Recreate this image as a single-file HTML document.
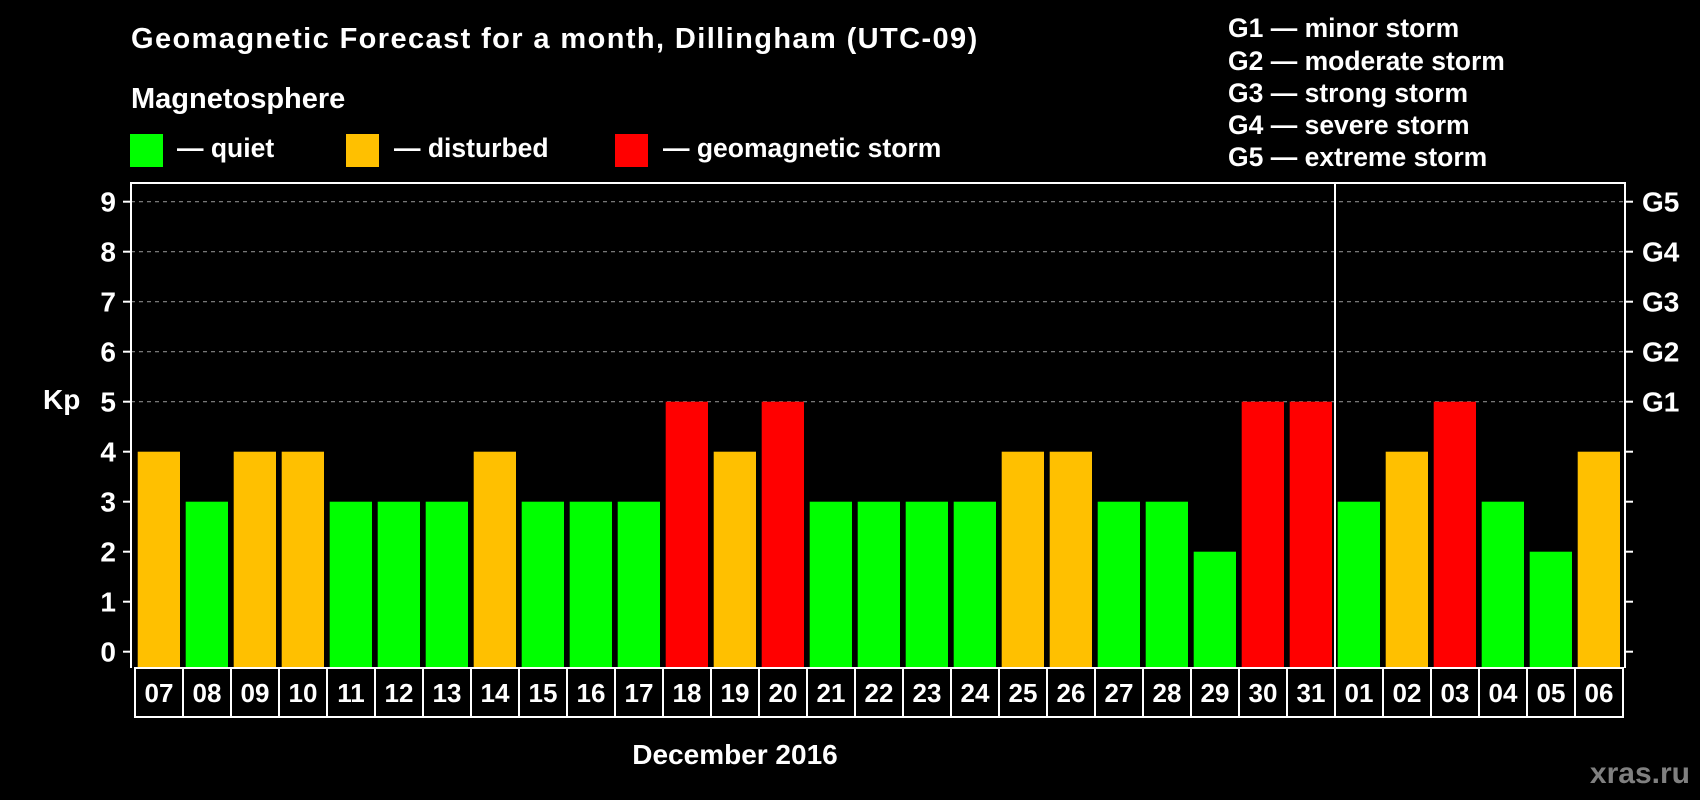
<!DOCTYPE html>
<html><head><meta charset="utf-8"><style>
html,body{margin:0;padding:0;background:#000;}
svg{display:block;font-family:"Liberation Sans",Arial,sans-serif;font-weight:bold;}
</style></head><body>
<svg id="chart" width="1700" height="800" viewBox="0 0 1700 800" xmlns="http://www.w3.org/2000/svg">
<rect width="1700" height="800" fill="#000"/>
<text x="131" y="48" fill="#fff" font-size="29" letter-spacing="1.4">Geomagnetic Forecast for a month, Dillingham (UTC-09)</text>
<text x="131" y="108" fill="#fff" font-size="29">Magnetosphere</text>
<g><rect x="130" y="134" width="33" height="33" fill="#00ff00"/><text x="177" y="157" fill="#fff" font-size="26.5">— quiet</text></g>
<g><rect x="346" y="134" width="33" height="33" fill="#ffc000"/><text x="394" y="157" fill="#fff" font-size="26.5">— disturbed</text></g>
<g><rect x="615" y="134" width="33" height="33" fill="#ff0000"/><text x="663" y="157" fill="#fff" font-size="26.5">— geomagnetic storm</text></g>
<g fill="#fff" font-size="26.5">
<text x="1228" y="37">G1 — minor storm</text>
<text x="1228" y="70">G2 — moderate storm</text>
<text x="1228" y="102">G3 — strong storm</text>
<text x="1228" y="134">G4 — severe storm</text>
<text x="1228" y="166">G5 — extreme storm</text>
</g>
<text x="43" y="409" fill="#fff" font-size="28">Kp</text>
<text x="735" y="764" fill="#fff" font-size="28" text-anchor="middle">December 2016</text>
<text x="1690" y="783" fill="#808080" font-size="30" text-anchor="end">xras.ru</text>
<g id="grid"></g>
<g id="bars"></g>
<g id="labels"></g>
<g id="axes"></g>
</svg>
<script>
const days = ["07","08","09","10","11","12","13","14","15","16","17","18","19","20","21","22","23","24","25","26","27","28","29","30","31","01","02","03","04","05","06"];
const kp = [4,3,4,4,3,3,3,4,3,3,3,5,4,5,3,3,3,3,4,4,3,3,2,5,5,3,4,5,3,2,4];
const yTicks = [0,1,2,3,4,5,6,7,8,9];
const gLabels = ["G1","G2","G3","G4","G5"];
const gLevels = [5,6,7,8,9];
const monthBreakIndex = 25;

const NS = "http://www.w3.org/2000/svg";
const plotLeft = 131, plotRight = 1625, plotTop = 183, plotBottom = 668;
const pitch = 48, barW = 42.3, firstX = 137.7;
function yPos(v){ return 651.7 - 50*v; }
function xPos(i){ return firstX + i*pitch; }
function mk(tag, attrs, parent){ const e=document.createElementNS(NS,tag); for(const k in attrs) e.setAttribute(k,attrs[k]); parent.appendChild(e); return e; }
function barColor(v){ return v>=5 ? "#ff0000" : (v>=4 ? "#ffc000" : "#00ff00"); }

const gridG = document.getElementById("grid");
gLevels.forEach(v=>{
  const l = mk("line",{x1:plotLeft,x2:plotRight,y1:yPos(v),y2:yPos(v),stroke:"#888","stroke-width":1.2,"stroke-dasharray":"4,4"},gridG);
  
  
});

const barsG = document.getElementById("bars");
kp.forEach((v,i)=>{
  const r = mk("rect",{x:xPos(i),y:yPos(v),width:barW,height:plotBottom-yPos(v),fill:barColor(v)},barsG);
  
  
});

const labelsG = document.getElementById("labels");
days.forEach((d,i)=>{
  const bx = xPos(i)-2.7;
  const b = mk("rect",{x:bx,y:plotBottom,width:pitch,height:49,fill:"#000",stroke:"#fff","stroke-width":2},labelsG);
  
  
  const t = mk("text",{x:bx+pitch/2,y:plotBottom+34,fill:"#fff","font-size":26,"text-anchor":"middle"},labelsG);
  t.textContent = d;
  
  
});

const axesG = document.getElementById("axes");
const fr = mk("path",{d:`M${plotLeft} ${plotBottom} L${plotLeft} ${plotTop} L${plotRight} ${plotTop} L${plotRight} ${plotBottom}`,fill:"none",stroke:"#fff","stroke-width":2},axesG);


const sepX = xPos(monthBreakIndex)-2.7;
const sep = mk("line",{x1:sepX,x2:sepX,y1:plotTop,y2:plotBottom,stroke:"#fff","stroke-width":2},axesG);


yTicks.forEach(v=>{
  const tl = mk("line",{x1:plotLeft-8,x2:plotLeft,y1:yPos(v),y2:yPos(v),stroke:"#fff","stroke-width":2},axesG);
  
  
  const tr = mk("line",{x1:plotRight,x2:plotRight+8,y1:yPos(v),y2:yPos(v),stroke:"#fff","stroke-width":2},axesG);
  
  
  const t = mk("text",{x:116,y:yPos(v)+10,fill:"#fff","font-size":28,"text-anchor":"end"},axesG);
  t.textContent = v;
  
  
});
gLevels.forEach((v,i)=>{
  const t = mk("text",{x:1642,y:yPos(v)+10,fill:"#fff","font-size":28},axesG);
  t.textContent = gLabels[i];
  
  
});
</script>
</body></html>
